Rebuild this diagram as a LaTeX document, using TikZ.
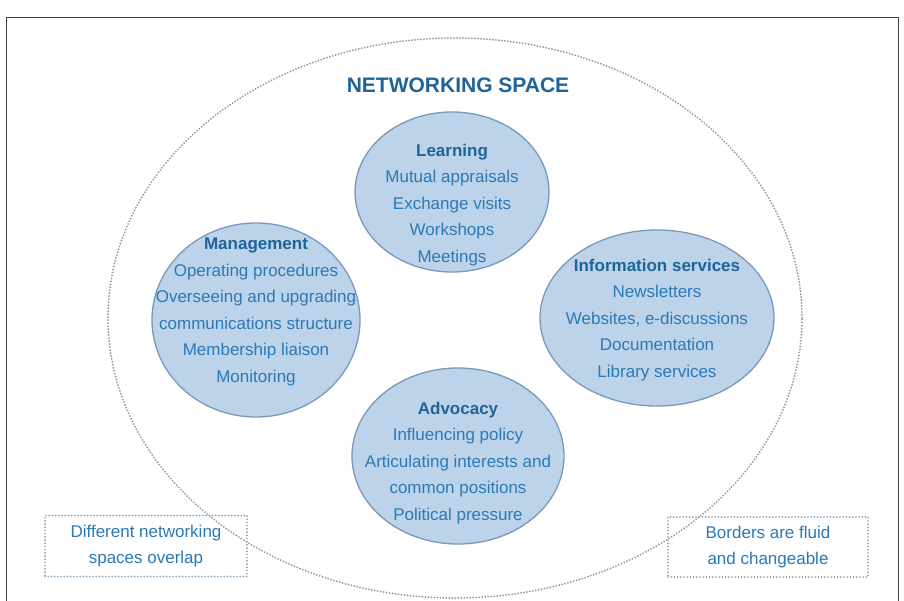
\documentclass[tikz,border=0pt]{standalone}
\usepackage{fontspec}
\setmainfont{Liberation Sans}
\usetikzlibrary{shapes.geometric}
\definecolor{txt}{HTML}{2B79B6}
\definecolor{ttl}{HTML}{1F6498}
\definecolor{efill}{HTML}{BDD3EA}
\definecolor{edraw}{HTML}{7A98BC}
\definecolor{dotc}{HTML}{8F979F}
\definecolor{boxc}{HTML}{86A0BA}
\begin{document}
\begin{tikzpicture}[x=1pt,y=-1pt,
  bubble/.style={ellipse, fill=efill, draw=edraw, line width=1.3pt, inner sep=0pt},
  btext/.style={align=center, text=txt, font=\fontsize{17}{26.5}\selectfont, inner sep=0pt},
  dotline/.style={draw=dotc, dash pattern=on 0pt off 3pt, line cap=round, line width=2pt},
  notebox/.style={draw=boxc, dash pattern=on 0pt off 3.2pt, line cap=round, line width=1.9pt,
    minimum width=202pt, minimum height=61pt, inner sep=0pt, align=center, text=txt,
    font=\fontsize{17}{26.5}\selectfont},
  frameline/.style={draw=black!75, line width=1pt}]
\useasboundingbox (0,0) rectangle (904,601);
\fill[white] (0,0) rectangle (904,601);
\coordinate (fbl) at (6,601);
\coordinate (ftl) at (6,18);
\coordinate (ftr) at (898,18);
\coordinate (fbr) at (898,601);
\draw[frameline] (fbl) -- (ftl) -- (ftr) -- (fbr);
\node[ellipse, dotline, minimum width=694pt, minimum height=560pt, inner sep=0pt] (space) at (455,318) {};
\node[text=ttl, font=\bfseries\fontsize{21}{24}\selectfont] (title) at (458,85) {NETWORKING SPACE};
\node[bubble, minimum width=194pt, minimum height=160pt] (learn) at (452,192) {};
\node[bubble, minimum width=208pt, minimum height=194pt] (mgmt) at (256,320) {};
\node[bubble, minimum width=234pt, minimum height=176pt] (info) at (657,318) {};
\node[bubble, minimum width=212pt, minimum height=176pt] (adv) at (458,456) {};
\node[btext] (learnT) at (452,205) {\textcolor{ttl}{\bfseries Learning}\\Mutual appraisals\\Exchange visits\\Workshops\\Meetings};
\node[btext] (mgmtT) at (256,312) {\textcolor{ttl}{\bfseries Management}\\Operating procedures\\Overseeing and upgrading\\communications structure\\Membership liaison\\Monitoring};
\node[btext] (infoT) at (657,320) {\textcolor{ttl}{\bfseries Information services}\\Newsletters\\Websites, e-discussions\\Documentation\\Library services};
\node[btext] (advT) at (458,463) {\textcolor{ttl}{\bfseries Advocacy}\\Influencing policy\\Articulating interests and\\common positions\\Political pressure};
\node[notebox] (left) at (146,546) {Different networking\\spaces overlap};
\node[notebox, minimum width=200pt, minimum height=60pt] (right) at (768,547) {Borders are fluid\\and changeable};
\end{tikzpicture}
\end{document}
